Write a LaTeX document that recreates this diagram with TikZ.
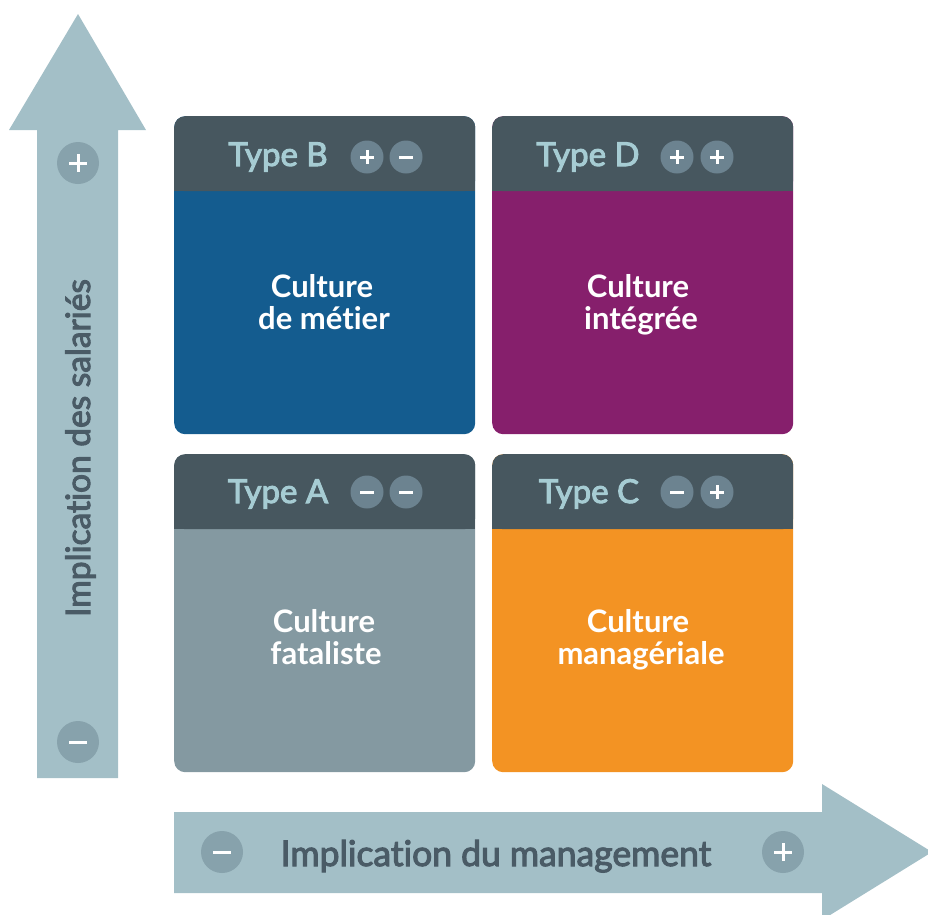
\documentclass[tikz,border=0pt]{standalone}
\usepackage{fontspec}
\setmainfont{Lato}[Ligatures=NoCommon]
\newfontface\semib{Lato}[FakeBold=3, Ligatures=NoCommon]
\usetikzlibrary{calc}
\definecolor{arrowc}{HTML}{A3BFC7}
\definecolor{arrowcirc}{HTML}{87A2AC}
\definecolor{arrowtext}{HTML}{4A5B66}
\definecolor{hdrc}{HTML}{47575F}
\definecolor{hdrtextc}{HTML}{A6CCD3}
\definecolor{hdrcirc}{HTML}{6C8390}
\definecolor{colB}{HTML}{145C8F}
\definecolor{colD}{HTML}{861F6C}
\definecolor{colA}{HTML}{8499A1}
\definecolor{colC}{HTML}{F39323}
\tikzset{
  box/.style={rectangle, rounded corners=11pt, minimum width=301pt, minimum height=318pt, inner sep=0pt, draw=none},
  hdr/.style={rectangle, rounded corners=11pt, minimum width=301pt, minimum height=75pt, inner sep=0pt, fill=hdrc, draw=none},
  hdrtext/.style={font=\semib\fontsize{33}{36}\selectfont, text=hdrtextc, inner sep=0pt, anchor=base},
  bodytext/.style={font=\bfseries\fontsize{31}{33}\selectfont, text=white, inner sep=0pt, anchor=base},
  signline/.style={white, line width=3pt},
  hcirc/.style={circle, fill=hdrcirc, minimum size=33pt, inner sep=0pt},
  acirc/.style={circle, fill=arrowcirc, minimum size=42pt, inner sep=0pt},
  plussign/.style={path picture={
     \draw[signline] ($(path picture bounding box.center)+(-#1,0)$) -- ++(2*#1,0)
                     ($(path picture bounding box.center)+(0,-#1)$) -- ++(0,2*#1);}},
  minussign/.style={path picture={
     \draw[signline] ($(path picture bounding box.center)+(-#1,0)$) -- ++(2*#1,0);}},
  axistext/.style={text=arrowtext, inner sep=0pt, anchor=base}
}
\begin{document}
\begin{tikzpicture}[x=1pt,y=-1pt]
\useasboundingbox (0,0) rectangle (928,914);
% vertical arrow
\fill[arrowc] (37,778) -- (37,130) -- (9,130) -- (78,14) -- (146,130) -- (118,130) -- (118,778) -- cycle;
% horizontal arrow
\fill[arrowc] (174,812) -- (822,812) -- (822,784) -- (932,852) -- (822,920) -- (822,893) -- (174,893) -- cycle;
% axis circles
\node[acirc, plussign=9pt] (vplus) at (78,163) {};
\node[acirc, minussign=9pt] (vminus) at (78,742) {};
\node[acirc, minussign=9pt] (hminus) at (222,852) {};
\node[acirc, plussign=9pt] (hplus) at (783,852) {};
% axis labels
\node[axistext, rotate=90, font=\semib\fontsize{33.5}{36}\selectfont] (vlabel) at (90,448) {Implication des salariés};
\node[axistext, font=\semib\fontsize{35.5}{40}\selectfont] (hlabel) at (496,866) {Implication du management};
% Type B
\node[box, fill=colB, anchor=north west] (B) at (174,116) {};
\node[hdr, anchor=north west] (Bh) at (174,116) {};
\fill[hdrc] (Bh.west) rectangle (Bh.south east);
\node[hdrtext] (Bt) at (278,166) {Type B};
\node[hcirc, plussign=7pt] (Bs1) at (367,157) {};
\node[hcirc, minussign=7pt] (Bs2) at (406,157) {};
\node[bodytext] (Bb1) at (322,297) {Culture};
\node[bodytext] (Bb2) at (324,329) {de métier};
% Type D
\node[box, fill=colD, anchor=north west] (D) at (492,116) {};
\node[hdr, anchor=north west] (Dh) at (492,116) {};
\fill[hdrc] (Dh.west) rectangle (Dh.south east);
\node[hdrtext] (Dt) at (588,166) {Type D};
\node[hcirc, plussign=7pt] (Ds1) at (677,157) {};
\node[hcirc, plussign=7pt] (Ds2) at (717,157) {};
\node[bodytext] (Db1) at (638,297) {Culture};
\node[bodytext] (Db2) at (641,329) {intégrée};
% Type A
\node[box, fill=colA, anchor=north west] (A) at (174,454) {};
\node[hdr, anchor=north west] (Ah) at (174,454) {};
\fill[hdrc] (Ah.west) rectangle (Ah.south east);
\node[hdrtext] (At) at (278,503) {Type A};
\node[hcirc, minussign=7pt] (As1) at (367,492) {};
\node[hcirc, minussign=7pt] (As2) at (406,492) {};
\node[bodytext] (Ab1) at (324,632) {Culture};
\node[bodytext] (Ab2) at (326,664) {fataliste};
% Type C
\node[box, fill=colC, anchor=north west] (C) at (492,454) {};
\node[hdr, anchor=north west] (Ch) at (492,454) {};
\fill[hdrc] (Ch.west) rectangle (Ch.south east);
\node[hdrtext] (Ct) at (589,503) {Type C};
\node[hcirc, minussign=7pt] (Cs1) at (677,492) {};
\node[hcirc, plussign=7pt] (Cs2) at (717,492) {};
\node[bodytext] (Cb1) at (638,632) {Culture};
\node[bodytext] (Cb2) at (641,664) {managériale};
\end{tikzpicture}
\end{document}
